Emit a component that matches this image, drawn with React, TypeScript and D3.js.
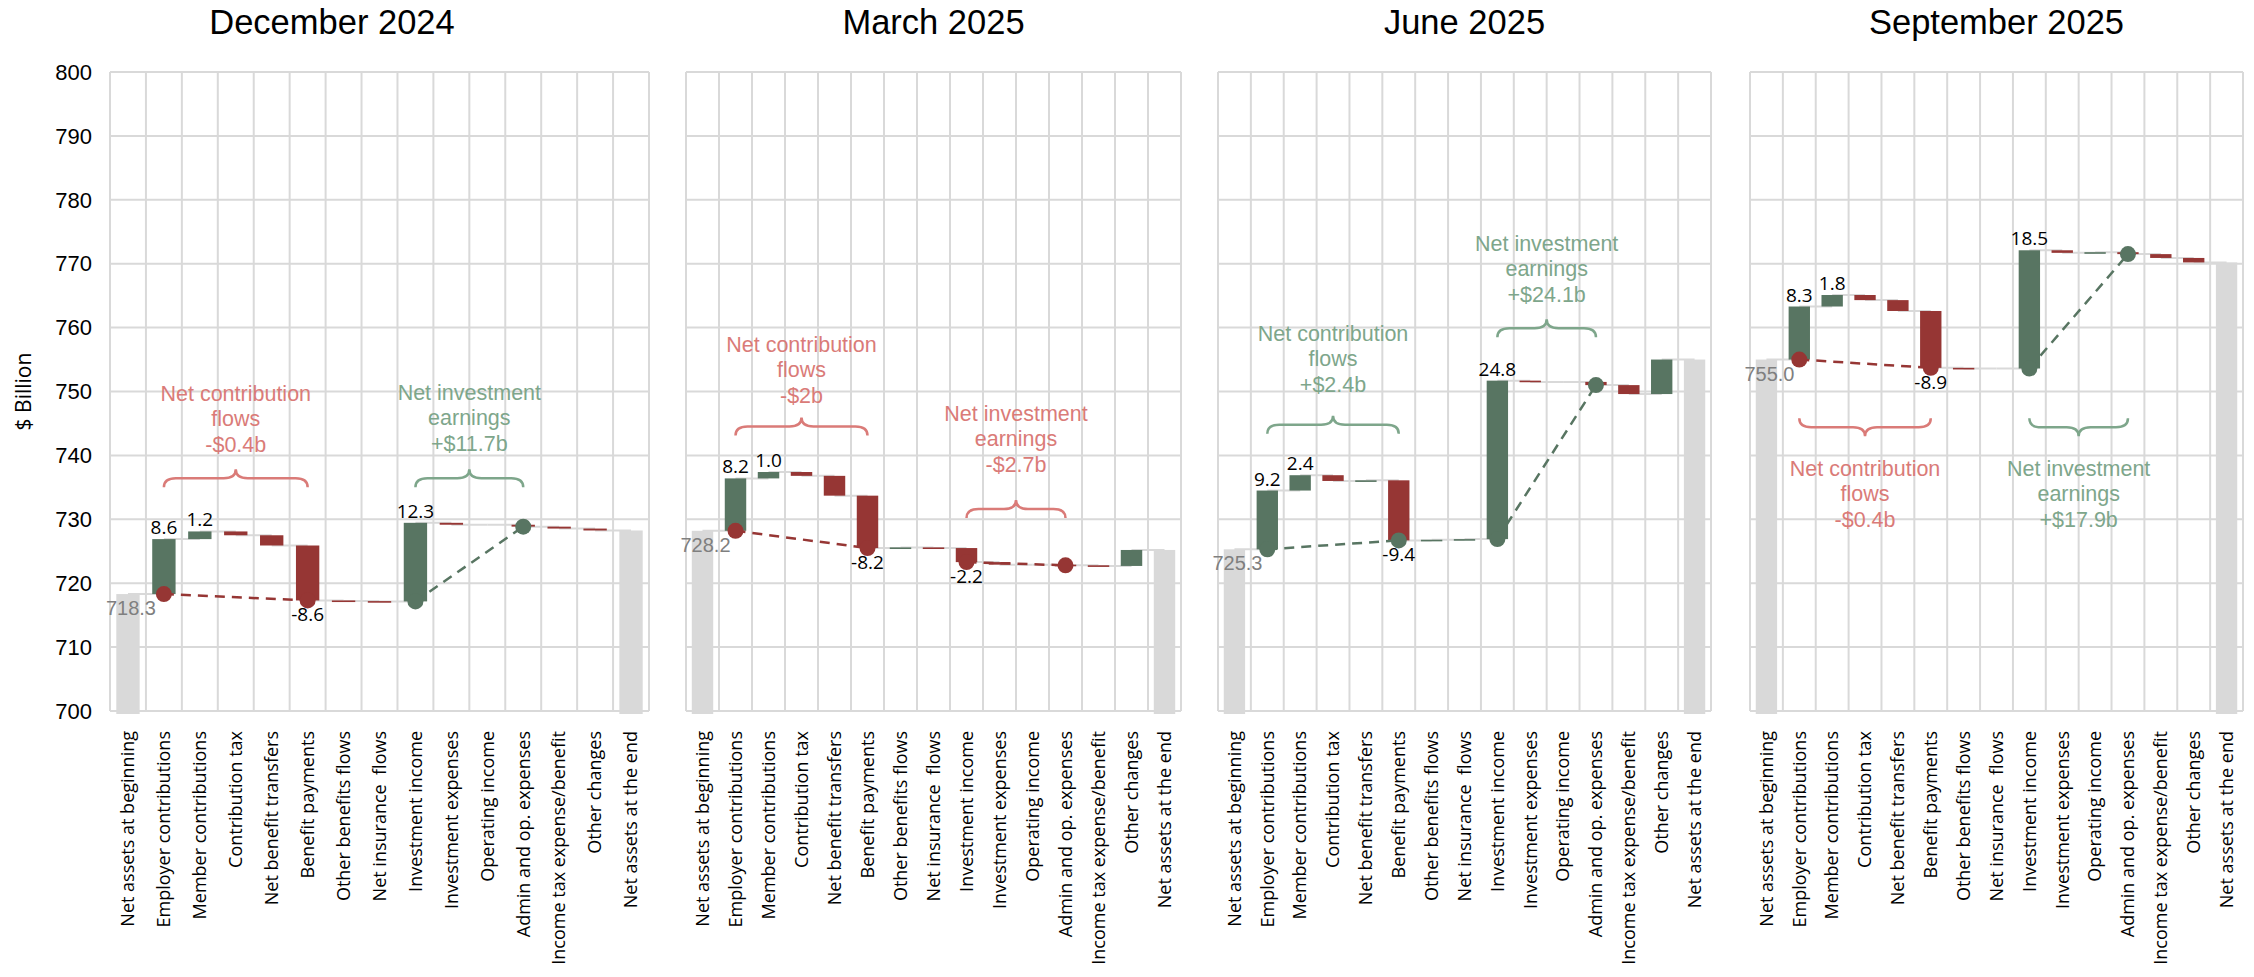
import React from 'react';
import * as d3 from 'd3';

// ---- data -----------------------------------------------------------------
const categories = [
  'Net assets at beginning',
  'Employer contributions',
  'Member contributions',
  'Contribution tax',
  'Net benefit transfers',
  'Benefit payments',
  'Other benefits flows',
  'Net insurance  flows',
  'Investment income',
  'Investment expenses',
  'Operating income',
  'Admin and op. expenses',
  'Income tax expense/benefit',
  'Other changes',
  'Net assets at the end',
];

const periods = ['December 2024', 'March 2025', 'June 2025', 'September 2025'];

const openingAssets = [718.3, 728.2, 725.3, 755.0];

// Flows for "Employer contributions" through "Other changes", $ billion
const flowsDec2024 = [8.6, 1.2, -0.6, -1.6, -8.6, -0.1, -0.05, 12.3, -0.3, 0.0, -0.3, -0.3, -0.3];
const flowsMar2025 = [8.2, 1.0, -0.6, -3.1, -8.2, 0.1, -0.1, -2.2, -0.4, 0.0, -0.1, -0.1, 2.5];
const flowsJun2025 = [9.2, 2.4, -0.9, 0.1, -9.4, 0.1, 0.1, 24.8, -0.2, 0.0, -0.5, -1.4, 5.4];
const flowsSep2025 = [8.3, 1.8, -0.8, -1.7, -8.9, -0.1, 0.0, 18.5, -0.4, 0.1, -0.3, -0.6, -0.7];
const flowsByPeriod = [flowsDec2024, flowsMar2025, flowsJun2025, flowsSep2025];

const netContributionLabels = ['-$0.4b', '-$2b', '+$2.4b', '-$0.4b'];
const netInvestmentLabels = ['+$11.7b', '-$2.7b', '+$24.1b', '+$17.9b'];

const labelledCategories = [
  'Employer contributions',
  'Member contributions',
  'Benefit payments',
  'Investment income',
];

const yTicks = [700, 710, 720, 730, 740, 750, 760, 770, 780, 790, 800];

// ---- layout & style -------------------------------------------------------
const W = 2254;
const H = 977;
const PANEL_X: [number, number][] = [
  [110, 649],
  [686, 1181],
  [1218, 1711],
  [1750, 2243],
];
const PLOT_TOP = 72;
const PLOT_BOTTOM = 711;
const TITLE_X = [332, 933.5, 1464.5, 1996.5];

// brace level (value where the brace ends sit), first text line level, side
const NOTE_LAYOUT = [
  { contrib: { brace: 735.0, text: 749.7, side: 'above' }, invest: { brace: 735.0, text: 749.9, side: 'above' } },
  { contrib: { brace: 743.1, text: 757.4, side: 'above' }, invest: { brace: 730.2, text: 746.6, side: 'above' } },
  { contrib: { brace: 743.4, text: 759.1, side: 'above' }, invest: { brace: 758.5, text: 773.2, side: 'above' } },
  { contrib: { brace: 745.8, text: 738.0, side: 'below' }, invest: { brace: 745.8, text: 738.0, side: 'below' } },
];

const GREEN = '#587562';
const RED = '#963634';
const GREY = '#D9D9D9';
const NOTE_GREEN = '#7EA68B';
const NOTE_RED = '#DA7B78';
const ARIAL = '"Liberation Sans", Arial, sans-serif';
const SANS = '"Open Sans", "Noto Sans", sans-serif';

type Step = { cat: string; start: number; end: number; total: boolean; value: number };

function buildSteps(opening: number, flows: number[]): Step[] {
  const steps: Step[] = [{ cat: categories[0], start: 700, end: opening, total: true, value: opening }];
  let level = opening;
  flows.forEach((v, i) => {
    steps.push({ cat: categories[i + 1], start: level, end: level + v, total: false, value: v });
    level += v;
  });
  steps.push({ cat: categories[categories.length - 1], start: 700, end: level, total: true, value: level });
  return steps;
}

function bracePath(x1: number, x2: number, ye: number, dir: number) {
  const r = 12;
  const xm = (x1 + x2) / 2;
  const yh = ye + dir * 9;
  const yt = ye + dir * 18;
  return `M${x1},${ye} Q${x1},${yh} ${x1 + r},${yh} L${xm - r},${yh} Q${xm},${yh} ${xm},${yt} Q${xm},${yh} ${xm + r},${yh} L${x2 - r},${yh} Q${x2},${yh} ${x2},${ye}`;
}

function Note({ x1, x2, y, layout, lines, label }: any) {
  const positive = label.startsWith('+');
  const color = positive ? NOTE_GREEN : NOTE_RED;
  const dir = layout.side === 'above' ? -1 : 1;
  const ye = y(layout.brace);
  const cx = (x1 + x2) / 2;
  const t0 = y(layout.text);
  const rows = [...lines, label];
  return (
    <g>
      <path d={bracePath(x1, x2, ye, dir)} fill="none" stroke={color} strokeWidth={2.5} />
      {rows.map((t: string, i: number) => (
        <text
          key={i}
          x={cx}
          y={t0 + i * 25.5}
          dy="0.35em"
          textAnchor="middle"
          fontFamily={ARIAL}
          fontSize={21.5}
          fill={color}
        >
          {t}
        </text>
      ))}
    </g>
  );
}

function Panel({ idx }: { idx: number }) {
  const [x0, x1] = PANEL_X[idx];
  const x = d3.scaleBand<string>().domain(categories).range([x0, x1]).paddingInner(0.35).paddingOuter(0.175);
  const y = d3.scaleLinear().domain([700, 800]).range([PLOT_BOTTOM, PLOT_TOP]);
  const step = x.step();
  const bw = x.bandwidth();
  const cx = (c: string) => (x(c) as number) + bw / 2;
  const steps = buildSteps(openingAssets[idx], flowsByPeriod[idx]);
  const byCat = new Map(steps.map((s) => [s.cat, s]));

  const bounds = d3.range(categories.length + 1).map((i) => x0 + i * step);

  const contribLabel = netContributionLabels[idx];
  const investLabel = netInvestmentLabels[idx];
  const contribColor = contribLabel.startsWith('+') ? GREEN : RED;
  const investColor = investLabel.startsWith('+') ? GREEN : RED;

  const emp = byCat.get('Employer contributions')!;
  const ben = byCat.get('Benefit payments')!;
  const inv = byCat.get('Investment income')!;
  const adm = byCat.get('Admin and op. expenses')!;
  const dotA = [cx(emp.cat), y(Math.min(emp.start, emp.end))];
  const dotB = [cx(ben.cat), y(Math.min(ben.start, ben.end))];
  const dotC = [cx(inv.cat), y(Math.min(inv.start, inv.end))];
  const dotD = [cx(adm.cat), y(adm.end)];

  const layout = NOTE_LAYOUT[idx];

  return (
    <g>
      {/* grid */}
      {yTicks.map((t) => (
        <line key={'h' + t} x1={x0} x2={x1} y1={y(t)} y2={y(t)} stroke={GREY} strokeWidth={2} />
      ))}
      {bounds.map((bx, i) => (
        <line key={'v' + i} x1={bx} x2={bx} y1={PLOT_TOP} y2={PLOT_BOTTOM} stroke={GREY} strokeWidth={2} />
      ))}

      {/* connectors */}
      {steps.slice(0, -1).map((s, i) => (
        <line
          key={'c' + i}
          x1={cx(s.cat)}
          x2={cx(steps[i + 1].cat)}
          y1={y(s.end)}
          y2={y(s.end)}
          stroke={GREY}
          strokeWidth={2}
        />
      ))}

      {/* bars */}
      {steps.map((s, i) => {
        if (s.total) {
          return (
            <rect
              key={'b' + i}
              x={x(s.cat)}
              width={bw}
              y={y(s.end)}
              height={y(700) + 3 - y(s.end)}
              fill={GREY}
            />
          );
        }
        if (s.value === 0) return null;
        const top = y(Math.max(s.start, s.end));
        const h = Math.max(Math.abs(y(s.start) - y(s.end)), 1.6);
        return (
          <rect key={'b' + i} x={x(s.cat)} width={bw} y={top} height={h} fill={s.value > 0 ? GREEN : RED} />
        );
      })}

      {/* net flow guides */}
      <line x1={dotA[0]} y1={dotA[1]} x2={dotB[0]} y2={dotB[1]} stroke={contribColor} strokeWidth={2.5} strokeDasharray="10,7" />
      <line x1={dotC[0]} y1={dotC[1]} x2={dotD[0]} y2={dotD[1]} stroke={investColor} strokeWidth={2.5} strokeDasharray="10,7" />
      <circle cx={dotA[0]} cy={dotA[1]} r={8} fill={contribColor} />
      <circle cx={dotB[0]} cy={dotB[1]} r={8} fill={contribColor} />
      <circle cx={dotC[0]} cy={dotC[1]} r={8} fill={investColor} />
      <circle cx={dotD[0]} cy={dotD[1]} r={8} fill={investColor} />

      {/* value labels */}
      {steps
        .filter((s) => labelledCategories.includes(s.cat))
        .map((s) => {
          const pos = s.value >= 0;
          const yy = pos ? y(s.end) - 5 : y(s.end) + 21;
          return (
            <text key={'l' + s.cat} x={cx(s.cat)} y={yy} textAnchor="middle" fontFamily={SANS} fontSize={19} fill="#000">
              {s.value.toFixed(1)}
            </text>
          );
        })}
      <text
        x={cx(categories[0]) + 3}
        y={y(steps[0].end) + 21}
        textAnchor="middle"
        fontFamily={ARIAL}
        fontSize={20}
        fill="#7F7F7F"
      >
        {steps[0].end.toFixed(1)}
      </text>

      {/* annotations */}
      <Note
        x1={cx('Employer contributions')}
        x2={cx('Benefit payments')}
        y={y}
        layout={layout.contrib}
        lines={['Net contribution', 'flows']}
        label={contribLabel}
      />
      <Note
        x1={cx('Investment income')}
        x2={cx('Admin and op. expenses')}
        y={y}
        layout={layout.invest}
        lines={['Net investment', 'earnings']}
        label={investLabel}
      />

      {/* category labels */}
      {categories.map((c) => (
        <text
          key={'x' + c}
          transform={`translate(${cx(c)},731) rotate(-90)`}
          dy="0.35em"
          textAnchor="end"
          fontFamily={SANS}
          fontSize={18}
          fill="#000"
          style={{ whiteSpace: 'pre' }}
        >
          {c}
        </text>
      ))}

      {/* title */}
      <text x={TITLE_X[idx]} y={34} textAnchor="middle" fontFamily={ARIAL} fontSize={34.5} fill="#000">
        {periods[idx]}
      </text>
    </g>
  );
}

export default function App() {
  const y = d3.scaleLinear().domain([700, 800]).range([PLOT_BOTTOM, PLOT_TOP]);
  return (
    <svg
      width={W}
      height={H}
      viewBox={`0 0 ${W} ${H}`}
      style={{ position: 'absolute', left: 0, top: 0, background: '#fff' }}
    >
      <rect width={W} height={H} fill="#fff" />
      {yTicks.map((t) => (
        <text key={t} x={92} y={y(t)} dy="0.35em" textAnchor="end" fontFamily={ARIAL} fontSize={22} fill="#000">
          {t}
        </text>
      ))}
      <text
        transform={`translate(24,${(PLOT_TOP + PLOT_BOTTOM) / 2}) rotate(-90)`}
        dy="0.35em"
        textAnchor="middle"
        fontFamily={SANS}
        fontSize={21}
        fill="#000"
      >
        $ Billion
      </text>
      {periods.map((p, i) => (
        <Panel key={p} idx={i} />
      ))}
    </svg>
  );
}
